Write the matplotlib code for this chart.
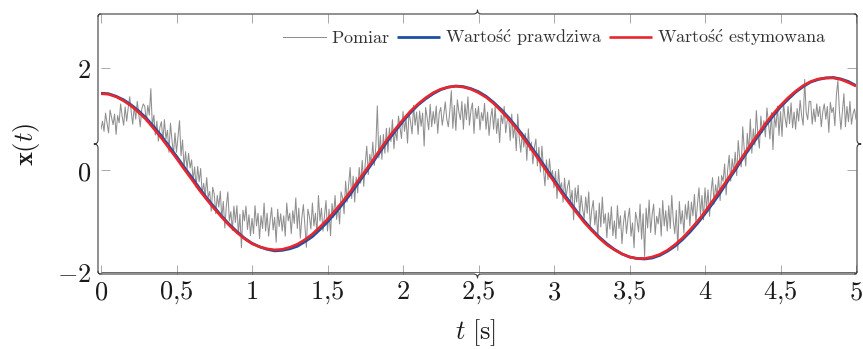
import numpy as np
import matplotlib
matplotlib.use("Agg")
import matplotlib.pyplot as plt
from matplotlib.path import Path
from matplotlib.patches import PathPatch

plt.rcParams["mathtext.fontset"] = "cm"
plt.rcParams["font.family"] = ["DejaVu Serif"]

# ---------------- data ----------------
t_step_true = 0.05
true_value = [
    1.51, 1.50, 1.45, 1.38, 1.28, 1.16, 1.02, 0.85, 0.67, 0.47,
    0.27, 0.06, -0.14, -0.35, -0.55, -0.73, -0.91, -1.07, -1.21, -1.34,
    -1.44, -1.51, -1.56, -1.59, -1.58, -1.55, -1.50, -1.41, -1.31, -1.17,
    -1.02, -0.85, -0.67, -0.48, -0.27, -0.06, 0.15, 0.37, 0.58, 0.77,
    0.96, 1.13, 1.28, 1.40, 1.50, 1.58, 1.63, 1.65, 1.64, 1.60,
    1.54, 1.45, 1.33, 1.19, 1.03, 0.85, 0.66, 0.45, 0.24, 0.02,
    -0.19, -0.41, -0.61, -0.81, -1.00, -1.17, -1.32, -1.45, -1.56, -1.65,
    -1.71, -1.74, -1.75, -1.73, -1.68, -1.60, -1.50, -1.37, -1.22, -1.05,
    -0.86, -0.66, -0.45, -0.22, 0.00, 0.23, 0.45, 0.66, 0.87, 1.06,
    1.24, 1.39, 1.53, 1.64, 1.73, 1.78, 1.81, 1.82, 1.79, 1.74,
    1.66,
]
estimated_value = [
    1.50, 1.49, 1.44, 1.36, 1.26, 1.13, 0.99, 0.81, 0.63, 0.43,
    0.23, 0.02, -0.18, -0.39, -0.58, -0.76, -0.93, -1.09, -1.23, -1.35,
    -1.45, -1.51, -1.55, -1.57, -1.56, -1.52, -1.46, -1.37, -1.26, -1.12,
    -0.97, -0.80, -0.62, -0.43, -0.22, -0.02, 0.19, 0.41, 0.62, 0.81,
    0.99, 1.16, 1.30, 1.42, 1.52, 1.59, 1.63, 1.65, 1.63, 1.59,
    1.52, 1.43, 1.31, 1.16, 1.00, 0.82, 0.62, 0.41, 0.20, -0.02,
    -0.23, -0.45, -0.65, -0.84, -1.03, -1.19, -1.34, -1.47, -1.57, -1.65,
    -1.71, -1.74, -1.74, -1.71, -1.66, -1.58, -1.47, -1.34, -1.18, -1.01,
    -0.82, -0.61, -0.40, -0.18, 0.04, 0.27, 0.49, 0.70, 0.91, 1.10,
    1.27, 1.42, 1.55, 1.66, 1.74, 1.79, 1.81, 1.81, 1.78, 1.72,
    1.65,
]
t_step_meas = 0.01
measurement = [
    0.80, 0.96, 0.76, 1.12, 0.92, 0.73, 1.18, 1.04, 0.89, 1.10,
    0.70, 1.07, 0.93, 1.30, 1.06, 0.88, 1.24, 0.96, 1.22, 1.44,
    1.15, 0.90, 1.25, 1.00, 1.35, 1.10, 0.85, 1.20, 1.30, 1.25,
    0.95, 1.27, 1.08, 1.60, 0.86, 1.08, 0.69, 0.96, 0.57, 0.84,
    0.95, 0.57, 0.99, 0.61, 0.78, 0.35, 0.92, 0.59, 0.31, 0.73,
    0.35, 0.66, 0.97, 0.28, 0.59, 0.05, 0.36, 0.02, 0.33, 0.04,
    0.20, -0.20, 0.06, -0.34, 0.07, -0.23, 0.03, -0.47, -0.26, -0.51,
    -0.15, -0.54, -0.42, -0.81, -0.34, -0.48, -0.86, -0.50, -0.73, -0.42,
    -0.95, -0.62, -1.14, -0.71, -0.43, -1.00, -0.82, -1.19, -0.71, -1.03,
    -0.70, -1.26, -0.87, -1.53, -0.79, -1.00, -0.71, -1.17, -0.88, -1.29,
    -0.95, -1.25, -0.70, -1.10, -0.85, -1.35, -0.90, -1.15, -0.65, -1.20,
    -0.85, -1.30, -0.99, -0.74, -1.18, -0.93, -1.42, -0.77, -1.11, -0.86,
    -1.20, -0.90, -1.30, -0.65, -1.00, -0.85, -1.25, -0.80, -1.05, -0.55,
    -1.15, -0.75, -1.34, -0.94, -0.68, -1.08, -1.52, -0.77, -0.91, -1.16,
    -0.65, -1.10, -0.85, -1.25, -0.50, -1.00, -0.75, -1.20, -0.90, -0.60,
    -1.20, -0.77, -1.29, -0.66, -0.93, -0.50, -0.97, -0.69, -1.06, -0.43,
    -0.55, -0.86, -0.22, -0.63, -0.29, 0.05, -0.56, -0.12, -0.63, -0.14,
    -0.45, 0.05, -0.26, 0.19, -0.32, 0.13, 0.47, -0.09, 0.31, 0.11,
    0.55, 0.09, 0.47, 1.26, 0.24, 0.68, 0.21, 0.70, 0.33, 0.82,
    0.35, 0.83, 0.56, 0.99, 0.42, 0.80, 0.58, 1.06, 0.84, 0.62,
    1.15, 0.76, 1.02, 0.53, 1.14, 0.95, 0.71, 1.27, 0.88, 1.14,
    0.70, 1.16, 0.86, 1.12, 0.47, 1.23, 1.03, 0.79, 1.29, 0.85,
    1.15, 0.91, 1.26, 0.72, 1.12, 1.23, 0.88, 1.09, 1.34, 1.00,
    0.85, 1.16, 1.56, 0.82, 1.27, 0.78, 1.38, 1.14, 0.99, 1.35,
    0.80, 1.30, 0.99, 1.44, 0.88, 1.18, 1.32, 0.72, 1.21, 1.01,
    1.25, 0.79, 1.13, 0.97, 1.31, 0.80, 1.14, 0.68, 1.02, 1.21,
    0.80, 1.24, 0.72, 1.01, 0.54, 1.08, 0.91, 1.25, 0.73, 0.97,
    1.05, 0.58, 1.10, 0.63, 0.90, 0.38, 1.10, 0.63, 0.35, 0.73,
    0.45, 0.72, 0.19, 0.81, 0.38, 0.55, 0.12, 0.44, 0.61, 0.08,
    0.45, -0.04, 0.47, 0.03, -0.31, 0.20, -0.19, 0.22, -0.12, -0.01,
    -0.35, -0.03, -0.56, 0.01, -0.37, -0.25, -0.63, -0.16, -0.54, -0.32,
    -0.20, -0.63, -0.40, -0.98, -0.35, -0.63, -0.30, -0.88, -0.50, -0.78,
    -0.95, -0.53, -0.85, -0.43, -1.10, -0.78, -0.60, -1.08, -0.80, -1.33,
    -0.65, -1.12, -0.53, -1.05, -0.86, -1.33, -0.84, -1.16, -0.72, -1.29,
    -1.00, -1.35, -0.70, -1.15, -0.90, -1.45, -1.05, -0.80, -1.25, -0.95,
    -0.75, -1.30, -1.04, -1.53, -0.83, -0.98, -1.22, -0.67, -1.36, -0.86,
    -1.70, -0.75, -1.14, -0.59, -1.23, -0.88, -0.67, -1.27, -0.91, -1.06,
    -0.75, -1.30, -0.60, -1.10, -0.80, -1.20, -0.70, -1.15, -0.50, -1.00,
    -1.25, -0.79, -1.58, -0.62, -1.06, -0.80, -1.24, -0.68, -0.97, -0.61,
    -1.10, -0.63, -0.90, -0.48, -1.05, -0.68, -0.35, -0.88, -0.50, -0.98,
    -0.35, -0.77, -0.39, -0.91, -0.43, -0.15, -0.67, -0.29, -0.51, -0.13,
    -0.60, -0.11, -0.22, 0.12, -0.49, 0.00, 0.29, -0.22, 0.22, -0.04,
    0.35, -0.11, 0.58, 0.22, 0.06, 0.85, 0.39, 0.08, 0.72, 0.36,
    1.00, 0.33, 0.81, 0.49, 1.17, 0.70, 0.43, 1.06, 0.74, 0.97,
    0.65, 1.22, 0.94, 0.61, 1.13, 0.40, 1.07, 0.84, 1.26, 0.68,
    1.15, 0.66, 1.32, 1.03, 0.84, 1.25, 0.91, 1.32, 0.83, 1.14,
    0.80, 1.21, 0.96, 1.37, 1.07, 0.88, 1.78, 1.14, 0.99, 1.35,
    1.35, 0.90, 1.20, 0.95, 1.30, 1.05, 1.25, 0.85, 1.15, 1.30,
    1.00, 1.25, 0.74, 1.33, 1.13, 1.23, 0.87, 1.47, 1.76, 1.16,
    0.80, 1.15, 1.50, 0.85, 1.25, 0.95, 1.35, 0.90, 1.10, 1.20,
    1.00,
]
series_labels = [
    r"$\mathrm{Pomiar}$",
    r"$\mathrm{Warto\acute{s}\acute{c}\ prawdziwa}$",
    r"$\mathrm{Warto\acute{s}\acute{c}\ estymowana}$",
]
x_ticks = [0, 0.5, 1, 1.5, 2, 2.5, 3, 3.5, 4, 4.5, 5]
x_tick_labels = ["$0$", "$0{,}5$", "$1$", "$1{,}5$", "$2$", "$2{,}5$",
                 "$3$", "$3{,}5$", "$4$", "$4{,}5$", "$5$"]
y_ticks = [-2, 0, 2]
y_tick_labels = ["$-2$", "$0$", "$2$"]
x_label = r"$t\ [\mathrm{s}]$"
y_label = r"$\mathbf{x}(t)$"

t_true = np.arange(len(true_value)) * t_step_true
t_meas = np.arange(len(measurement)) * t_step_meas

# ---------------- figure ----------------
W, H = 863, 349
fig = plt.figure(figsize=(W / 100, H / 100), dpi=100)

ax_l, ax_r, ax_t, ax_b = 101, 856, 14, 273.5
ax = fig.add_axes([ax_l / W, 1 - ax_b / H, (ax_r - ax_l) / W, (ax_b - ax_t) / H])
ax.set_xlim(0, 5)
ax.set_ylim(-2.035, 3.068)

c_gray = "#8f8f8f"
c_blue = "#1f4fa3"
c_red = "#e8262d"

l1, = ax.plot(t_meas, measurement, color=c_gray, lw=0.75, zorder=2)
l2, = ax.plot(t_true, true_value, color=c_blue, lw=2.0, zorder=3,
              solid_capstyle="butt")
l3, = ax.plot(t_true, estimated_value, color=c_red, lw=1.9, zorder=4,
              solid_capstyle="butt")

for s in ax.spines.values():
    s.set_visible(False)

ax.set_xticks(x_ticks)
ax.set_xticklabels(x_tick_labels)
ax.set_yticks(y_ticks)
ax.set_yticklabels(y_tick_labels)
ax.tick_params(direction="in", length=6.6, width=0.7, color="#a8a8a8",
               top=True, right=True, labelsize=19, labelcolor="#1a1a1a")
ax.tick_params(axis="x", pad=4)
ax.tick_params(axis="y", pad=7)

ax.set_xlabel(x_label, fontsize=19, va="center", color="#1a1a1a")
ax.xaxis.set_label_coords((476 - ax_l) / (ax_r - ax_l), (ax_b - 333) / (ax_b - ax_t))
ax.set_ylabel(y_label, fontsize=19, va="center", color="#1a1a1a")
ax.yaxis.set_label_coords((27 - ax_l) / (ax_r - ax_l), (ax_b - 144) / (ax_b - ax_t))

leg = ax.legend([l1, l2, l3], series_labels, loc="center right",
                bbox_to_anchor=((827 - ax_l) / (ax_r - ax_l), (ax_b - 38) / (ax_b - ax_t)),
                ncol=3, frameon=False, fontsize=13, handlelength=2.35,
                handletextpad=0.3, columnspacing=0.4, borderpad=0,
                borderaxespad=0)
for txt in leg.get_texts():
    txt.set_color("#333333")

# ---------------- brace-decorated frame ----------------
def fx(px):
    return px / W

def fy(py):
    return 1 - py / H

def brace(p0, p1, out, r=2.5, tip=4.0, tw=4.0):
    p0 = np.array(p0, float)
    p1 = np.array(p1, float)
    d = p1 - p0
    L = np.hypot(*d)
    u = d / L
    n = np.array(out, float)

    def P(a, b):
        q = p0 + a * u + b * n
        return (fx(q[0]), fy(q[1]))

    m = L / 2
    verts = [P(0, 0), P(0, r), P(r, r), P(m - tw, r), P(m, r), P(m, r + tip),
             P(m, r), P(m + tw, r), P(L - r, r), P(L, r), P(L, 0)]
    codes = [Path.MOVETO, Path.CURVE3, Path.CURVE3, Path.LINETO, Path.CURVE3,
             Path.CURVE3, Path.CURVE3, Path.CURVE3, Path.LINETO, Path.CURVE3,
             Path.CURVE3]
    return Path(verts, codes)

fl, fr, ft, fb = 98.0, 857.0, 14.0, 274.0
r = 2.5
frame_kw = dict(transform=fig.transFigure, fill=False, lw=0.8,
                ec="#3c3c3c", capstyle="round", joinstyle="round")
for pth in [brace((fl, ft + r), (fr, ft + r), (0, -1)),
            brace((fl + r, ft), (fl + r, fb), (-1, 0)),
            brace((fr - r, ft), (fr - r, fb), (1, 0)),
            brace((fl, fb - r), (fr, fb - r), (0, 1))]:
    fig.add_artist(PathPatch(pth, **frame_kw))
fig.add_artist(PathPatch(Path([(fx(101), fy(272.4)), (fx(855), fy(272.4))]),
                         transform=fig.transFigure, fill=False, lw=0.7,
                         ec="#6a6a6a"))

fig.savefig("out.png", dpi=100)
